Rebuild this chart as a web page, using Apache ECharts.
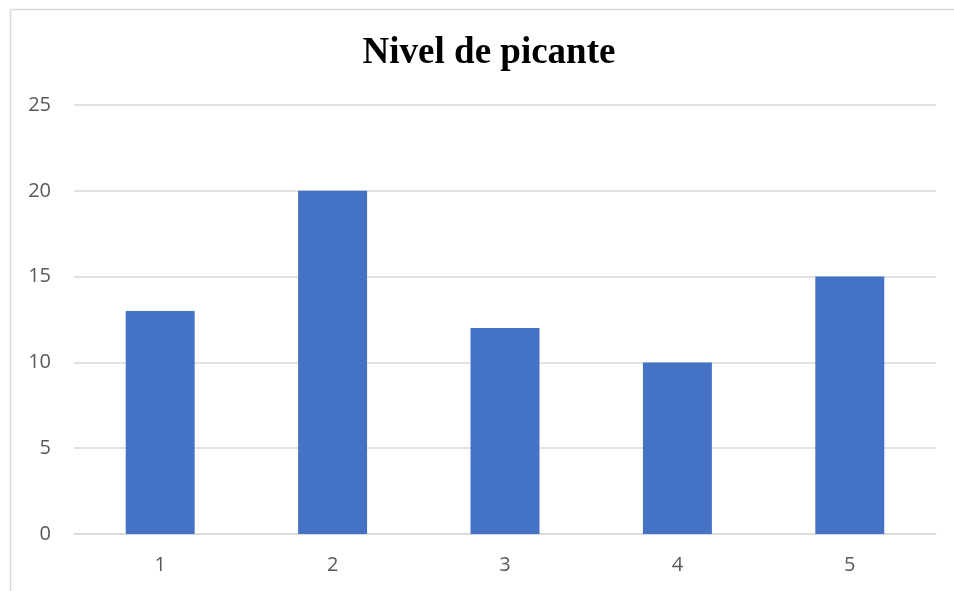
<!DOCTYPE html>
<html>
<head>
<meta charset="utf-8">
<title>Nivel de picante</title>
<script src="https://cdn.jsdelivr.net/npm/echarts@6/dist/echarts.min.js"></script>
<style>
  html, body { margin: 0; padding: 0; background: #fff; }
  #chart { width: 954px; height: 591px; }
</style>
</head>
<body>
<div id="chart"></div>
<script>
// Categories and values of the chart
const categories = ['1', '2', '3', '4', '5'];
const values = [13, 20, 12, 10, 15];
const yTicks = { min: 0, max: 25, interval: 5 };

const chart = echarts.init(document.getElementById('chart'), null, { renderer: 'canvas' });

chart.setOption({
  backgroundColor: '#ffffff',
  animation: false,
  title: {
    text: 'Nivel de picante',
    left: 484,
    top: 30,
    textAlign: 'center',
    textStyle: {
      fontFamily: '"Liberation Serif", "Times New Roman", serif',
      fontWeight: 'bold',
      fontSize: 37,
      color: '#000000'
    }
  },
  grid: { left: 74, right: 18, top: 105, bottom: 57, containLabel: false },
  xAxis: {
    type: 'category',
    data: categories,
    axisLine: { lineStyle: { color: '#d9d9d9', width: 1.5 } },
    axisTick: { show: false },
    axisLabel: {
      margin: 21,
      fontFamily: '"Open Sans", sans-serif',
      fontSize: 20,
      color: '#595959'
    }
  },
  yAxis: {
    type: 'value',
    min: yTicks.min,
    max: yTicks.max,
    interval: yTicks.interval,
    axisLine: { show: false },
    axisTick: { show: false },
    splitLine: { lineStyle: { color: '#d9d9d9', width: 1.5 } },
    axisLabel: {
      margin: 23,
      fontFamily: '"Open Sans", sans-serif',
      fontSize: 20,
      color: '#595959'
    }
  },
  series: [{
    type: 'bar',
    data: values,
    barWidth: '40%',
    itemStyle: { color: '#4472C4' }
  }],
  graphic: [
    // chart frame: top and left edges
    { type: 'line', silent: true, shape: { x1: 10.5, y1: 9.5, x2: 954, y2: 9.5 }, style: { stroke: '#d9d9d9', lineWidth: 1.5 } },
    { type: 'line', silent: true, shape: { x1: 10.5, y1: 9.5, x2: 10.5, y2: 591 }, style: { stroke: '#d9d9d9', lineWidth: 1.5 } }
  ]
});
</script>
</body>
</html>
